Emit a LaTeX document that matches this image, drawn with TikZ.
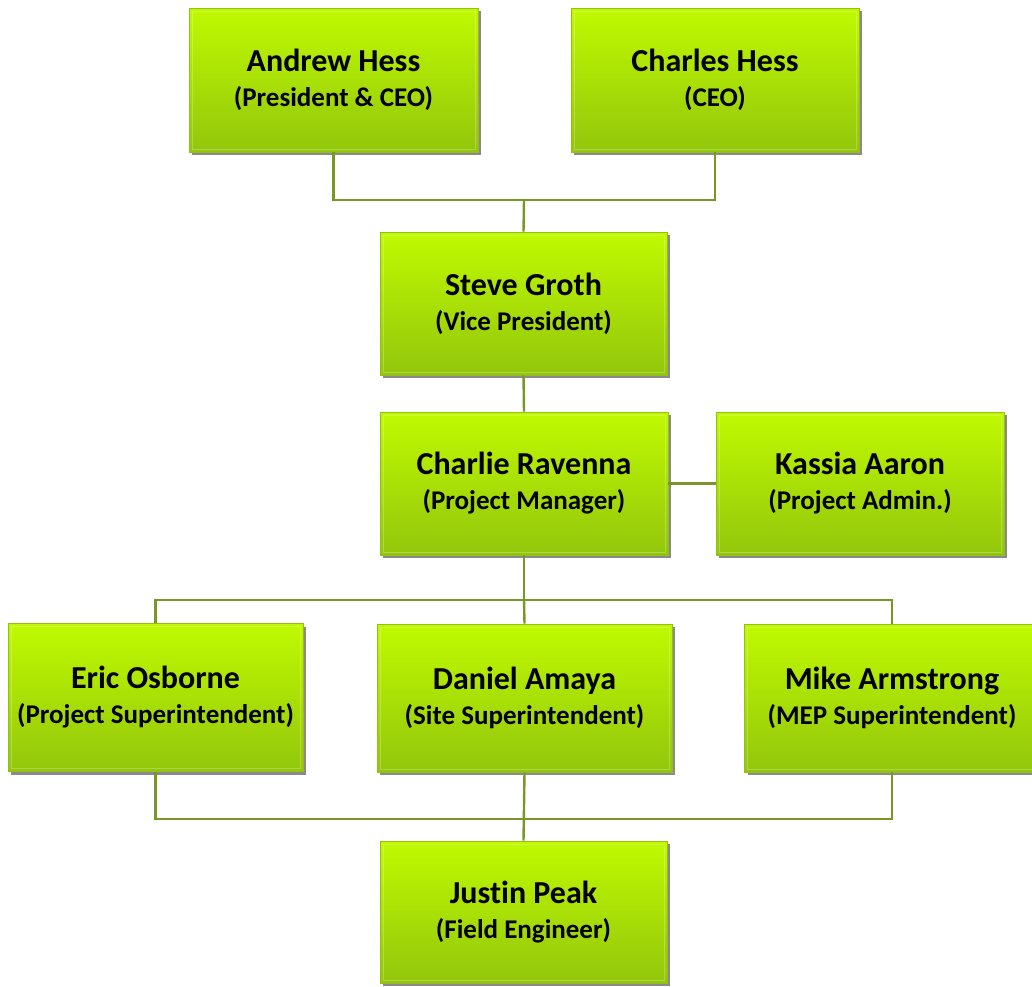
\documentclass[tikz,border=0pt]{standalone}
\usepackage{fontspec}
\setmainfont{Carlito}[Ligatures=NoCommon]
\usetikzlibrary{shadows}
\definecolor{boxtop}{RGB}{192,250,0}
\definecolor{boxbot}{RGB}{146,198,12}
\definecolor{boxedge}{RGB}{150,190,20}
\definecolor{conn}{RGB}{122,150,38}
\tikzset{
  person/.style={draw=boxedge, line width=0.8pt, shading=axis, top color=boxtop, bottom color=boxbot,
    minimum width=288pt, minimum height=143pt, inner sep=0pt, align=center,
    font=\bfseries\fontsize{32}{35}\selectfont,
    drop shadow={shadow xshift=3pt, shadow yshift=-3pt, fill=black!65, opacity=0.7},
    path picture={\draw[white, opacity=0.25, line width=0.6pt]
      ([shift={(3pt,-3pt)}]path picture bounding box.north west) rectangle
      ([shift={(-3pt,3pt)}]path picture bounding box.south east);}},
  wide/.style={minimum width=295pt, minimum height=148pt},
  link/.style={draw=conn, line width=2.4pt},
}
\newcommand{\pname}[2]{#1\\{\fontsize{27}{35}\selectfont #2}}
\begin{document}
\begin{tikzpicture}[x=1pt,y=-1pt]
\useasboundingbox (0,0) rectangle (1032,986);
\clip (0,0) rectangle (1032,986);
\node[person, minimum width=289pt, minimum height=144pt] (andrew) at (333.5,80) {\pname{Andrew Hess}{(President \& CEO)}};
\node[person, minimum height=144pt] (charles) at (715,80) {\pname{Charles Hess}{(CEO)}};
\node[person, minimum width=287pt] (steve) at (523.5,303.5) {\pname{Steve Groth}{(Vice President)}};
\node[person] (ravenna) at (524,483.5) {\pname{Charlie Ravenna}{(Project Manager)}};
\node[person] (kassia) at (860,483.5) {\pname{Kassia Aaron}{(Project Admin.)}};
\node[person, wide] (eric) at (155.5,697.5) {\pname{Eric Osborne}{(Project Superintendent)}};
\node[person, wide] (daniel) at (524.5,698) {\pname{Daniel Amaya}{(Site Superintendent)}};
\node[person, wide] (mike) at (892,698) {\pname{Mike Armstrong}{(MEP Superintendent)}};
\node[person, minimum width=287pt, minimum height=142pt] (justin) at (523.5,912) {\pname{Justin Peak}{(Field Engineer)}};
\coordinate (topbar) at (524,200);
\coordinate (midbar) at (524,600);
\coordinate (botbar) at (524,819);
\draw[link] (andrew.south) |- (topbar) -| (charles.south);
\draw[link] (topbar) -- (steve.north);
\draw[link] (steve.south) -- (ravenna.north);
\draw[link] (ravenna.east) -- (kassia.west);
\draw[link] (ravenna.south) -- (midbar);
\draw[link] (eric.north) |- (midbar) -| (mike.north);
\draw[link] (midbar) -- (daniel.north);
\draw[link] (eric.south) |- (botbar) -| (mike.south);
\draw[link] (daniel.south) -- (justin.north);
\end{tikzpicture}
\end{document}
